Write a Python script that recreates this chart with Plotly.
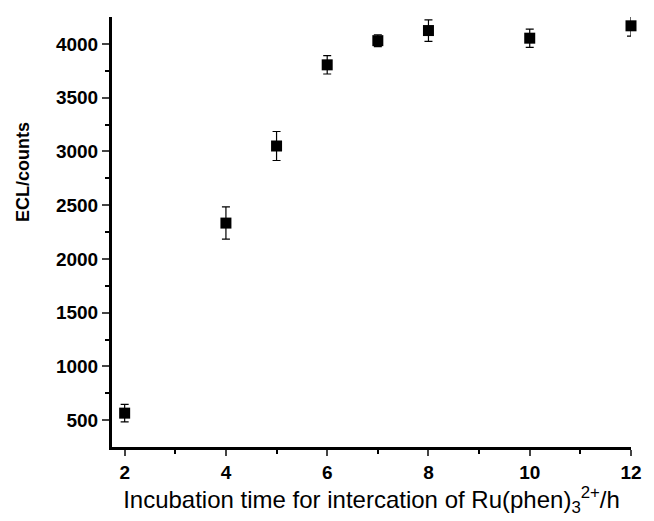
import plotly.graph_objects as go

time_h = [2, 4, 5, 6, 7, 8, 10, 12]
ecl_counts = [565, 2333, 3050, 3805, 4030, 4124, 4053, 4168]
ecl_err = [82, 150, 135, 85, 55, 100, 85, 95]

x_ticks = [2, 4, 6, 8, 10, 12]
y_ticks = [500, 1000, 1500, 2000, 2500, 3000, 3500, 4000]

FONT = "Liberation Sans, Arial, sans-serif"

fig = go.Figure()
fig.add_trace(go.Scatter(
    x=time_h, y=ecl_counts, mode="markers",
    marker=dict(symbol="square", size=11, color="black"),
    error_y=dict(type="data", array=ecl_err, visible=True, color="black", thickness=1.2, width=4),
    showlegend=False, cliponaxis=False,
))

fig.update_layout(
    width=654, height=521,
    margin=dict(l=112, r=17, t=17, b=74),
    plot_bgcolor="white", paper_bgcolor="white",
    font=dict(family=FONT, size=16, color="black"),
    annotations=[dict(
        text="ECL/counts", textangle=-90, showarrow=False,
        xref="paper", yref="paper", x=-0.171, y=0.64,
        xanchor="center", yanchor="middle",
        font=dict(family=FONT, size=18, color="black", weight="bold"),
    )],
)
fig.update_xaxes(
    range=[1.75, 12], tickvals=x_ticks, ticks="outside", ticklen=6, tickwidth=2,
    showline=True, linewidth=3, linecolor="black", showgrid=False, zeroline=False,
    tickfont=dict(family=FONT, size=19, color="black", weight="bold"),
    minor=dict(tickvals=[3, 5, 7, 9, 11], ticks="outside", ticklen=4, tickwidth=2, tickcolor="black"),
    title=dict(text="Incubation time for intercation of Ru(phen)<sub>3</sub><sup>2+</sup>/h",
               font=dict(family=FONT, size=24, color="black"), standoff=8),
)
fig.update_yaxes(
    range=[250, 4250], tickvals=y_ticks, ticks="outside", ticklen=7, tickwidth=2,
    showline=True, linewidth=3, linecolor="black", showgrid=False, zeroline=False,
    tickfont=dict(family=FONT, size=19, color="black", weight="bold"),
    minor=dict(tickvals=[750, 1250, 1750, 2250, 2750, 3250, 3750], ticks="outside", ticklen=4, tickwidth=2, tickcolor="black"),
)

fig.write_html("out.html")
